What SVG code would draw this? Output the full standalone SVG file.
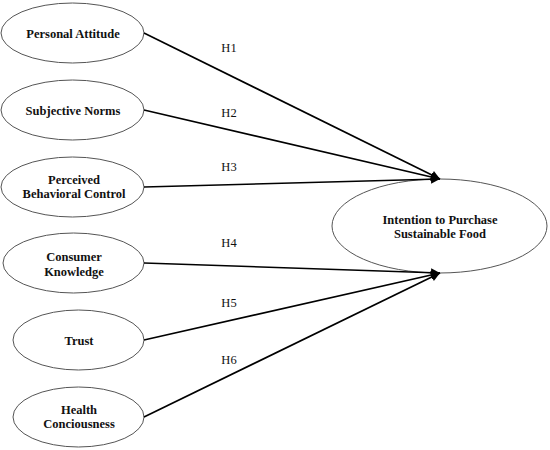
<svg xmlns="http://www.w3.org/2000/svg" width="550" height="450" viewBox="0 0 550 450">
<style>
.n{fill:#fff;stroke:#555;stroke-width:1}
.t{font-family:"Liberation Serif",serif;font-size:12.5px;font-weight:bold;text-anchor:middle;fill:#111}
.h{font-family:"Liberation Serif",serif;font-size:12.5px;text-anchor:middle;fill:#111}
.e{stroke:#000;stroke-width:1.6;fill:none;marker-end:url(#a)}
</style>
<defs>
<marker id="a" viewBox="0 0 10 10" refX="10" refY="5" markerWidth="10" markerHeight="9" markerUnits="userSpaceOnUse" orient="auto">
<path d="M0,0 L10,5 L0,10 z" fill="#000"/>
</marker>
</defs>
<rect width="550" height="450" fill="#fff"/>
<g id="n1"><ellipse class="n" cx="72.5" cy="33" rx="71.5" ry="30"/><text class="t" x="73" y="37.5">Personal Attitude</text></g>
<g id="n2"><ellipse class="n" cx="72.5" cy="110" rx="71.5" ry="30"/><text class="t" x="73" y="114.5">Subjective Norms</text></g>
<g id="n3"><ellipse class="n" cx="72.5" cy="187" rx="71.5" ry="30"/><text class="t" x="74" y="184">Perceived</text><text class="t" x="74" y="198">Behavioral Control</text></g>
<g id="n4"><ellipse class="n" cx="73.5" cy="263" rx="70.5" ry="30"/><text class="t" x="74" y="261">Consumer</text><text class="t" x="74" y="276">Knowledge</text></g>
<g id="n5"><ellipse class="n" cx="78.5" cy="340" rx="65.5" ry="30"/><text class="t" x="79" y="344.5">Trust</text></g>
<g id="n6"><ellipse class="n" cx="78.5" cy="417" rx="65.5" ry="30"/><text class="t" x="79" y="414">Health</text><text class="t" x="79" y="428">Conciousness</text></g>
<g id="n7"><ellipse class="n" cx="439.5" cy="226" rx="107.5" ry="47"/><text class="t" x="440" y="224">Intention to Purchase</text><text class="t" x="440" y="238">Sustainable Food</text></g>
<g id="edges">
<line class="e" x1="144" y1="33" x2="440" y2="179"/>
<line class="e" x1="144" y1="110" x2="440" y2="179"/>
<line class="e" x1="144" y1="187" x2="440" y2="179"/>
<line class="e" x1="144" y1="263" x2="440" y2="273"/>
<line class="e" x1="144" y1="340" x2="440" y2="273"/>
<line class="e" x1="144" y1="417" x2="440" y2="273"/>
<text class="h" x="229" y="52">H1</text>
<text class="h" x="229" y="117">H2</text>
<text class="h" x="229" y="171">H3</text>
<text class="h" x="229" y="247">H4</text>
<text class="h" x="229" y="307">H5</text>
<text class="h" x="229" y="364">H6</text>
</g>
</svg>
